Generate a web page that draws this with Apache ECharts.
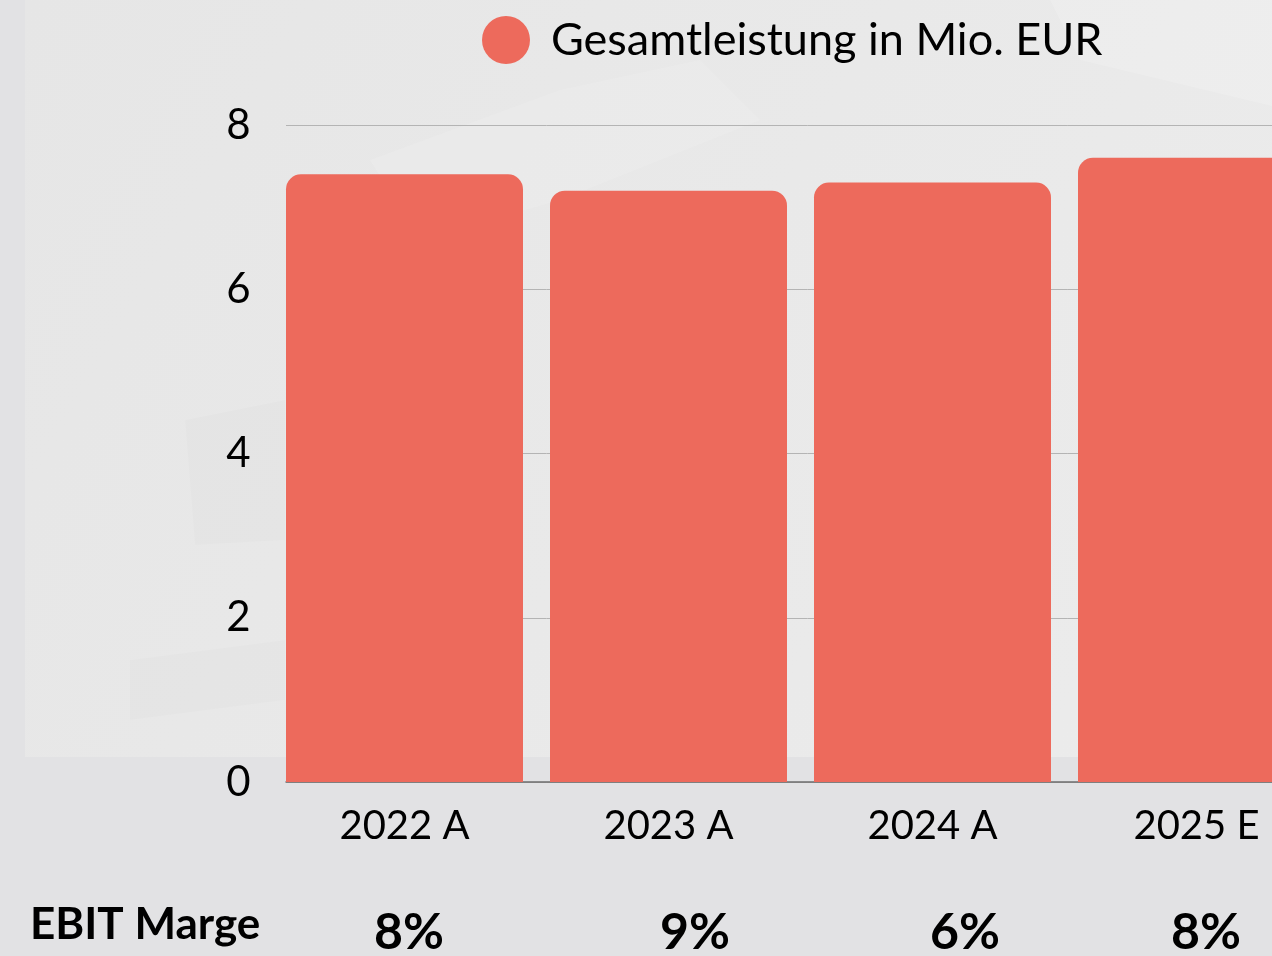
<!DOCTYPE html>
<html>
<head>
<meta charset="utf-8">
<script src="https://cdn.jsdelivr.net/npm/echarts@6/dist/echarts.min.js"></script>
<style>
html,body{margin:0;padding:0;background:#e2e2e4;width:1272px;height:956px;overflow:hidden;}
#chart{width:1330px;height:956px;}
</style>
</head>
<body>
<div id="chart"></div>
<script>
const categories = ['2022 A', '2023 A', '2024 A', '2025 E'];
const gesamtleistung = [7.4, 7.2, 7.3, 7.6];
const ebitMarge = ['8%', '9%', '6%', '8%'];
const seriesName = 'Gesamtleistung in Mio. EUR';
const rowLabel = 'EBIT Marge';
const yTicks = { min: 0, max: 8, interval: 2 };

// layout helpers (screen positions of the EBIT row texts)
const ebitX = [409, 695, 965, 1206];

const FONT = 'Lato, "Open Sans", sans-serif';
const chart = echarts.init(document.getElementById('chart'), null, { renderer: 'canvas' });

const graphics = [
  { type: 'rect', z: -10, silent: true, shape: { x: 0, y: 0, width: 1330, height: 956 }, style: { fill: '#e2e2e4' } },
  { type: 'rect', z: -9, silent: true, shape: { x: 25, y: 0, width: 1305, height: 757 },
    style: { fill: new echarts.graphic.LinearGradient(0, 0, 1, 1, [
      { offset: 0, color: '#e6e6e6' }, { offset: 0.5, color: '#e9e9e9' }, { offset: 1, color: '#ececec' }]) } },
  { type: 'polygon', z: -8, silent: true, shape: { points: [[370, 160], [560, 90], [700, 60], [760, 120], [560, 200], [420, 240]] }, style: { fill: 'rgba(255,255,255,0.12)' } },
  { type: 'polygon', z: -8, silent: true, shape: { points: [[185, 420], [285, 400], [285, 540], [195, 545]] }, style: { fill: 'rgba(0,0,0,0.012)' } },
  { type: 'polygon', z: -8, silent: true, shape: { points: [[130, 660], [285, 640], [285, 700], [130, 720]] }, style: { fill: 'rgba(0,0,0,0.01)' } },
  { type: 'polygon', z: -8, silent: true, shape: { points: [[1050, 0], [1330, 0], [1330, 120], [1080, 60]] }, style: { fill: 'rgba(255,255,255,0.15)' } },
  { type: 'text', left: 30, top: 903, style: { text: rowLabel, font: 'bold 44px ' + FONT, fill: '#000' } }
];
ebitMarge.forEach((t, i) => {
  graphics.push({ type: 'text', x: ebitX[i], y: 933, style: { text: t, font: 'bold 50px ' + FONT, fill: '#000', align: 'center', verticalAlign: 'middle' } });
});

chart.setOption({
  backgroundColor: 'transparent',
  animation: false,
  graphic: graphics,
  legend: {
    left: 482, top: 16, padding: 0,
    icon: 'circle', itemWidth: 48, itemHeight: 48,
    textStyle: { fontFamily: FONT, fontSize: 45, color: '#000', padding: [0, 0, 0, 16] },
    data: [seriesName]
  },
  grid: [
    { left: 272.5, width: 1056, top: 125, bottom: 174 },
    { left: 286, width: 1042.5, top: 125, bottom: 174 }
  ],
  xAxis: [
    { type: 'category', gridIndex: 0, data: categories,
      axisLine: { show: false }, axisTick: { show: false },
      axisLabel: { fontFamily: FONT, fontSize: 40, color: '#000', margin: 24 } },
    { type: 'value', gridIndex: 1, min: 0, max: 1,
      axisLine: { show: true, lineStyle: { color: '#6e6e6e', width: 1.5 } },
      axisTick: { show: false }, axisLabel: { show: false }, splitLine: { show: false } }
  ],
  yAxis: [
    { type: 'value', gridIndex: 0, min: yTicks.min, max: yTicks.max, interval: yTicks.interval,
      axisLine: { show: false }, axisTick: { show: false }, splitLine: { show: false },
      axisLabel: { fontFamily: FONT, fontSize: 42, color: '#000', margin: 22 } },
    { type: 'value', gridIndex: 1, min: yTicks.min, max: yTicks.max, interval: yTicks.interval,
      axisLine: { show: false }, axisTick: { show: false }, axisLabel: { show: false },
      splitLine: { show: true, lineStyle: { color: '#b4b4b4', width: 1 } } }
  ],
  series: [
    { name: seriesName, type: 'bar', xAxisIndex: 0, yAxisIndex: 0,
      data: gesamtleistung, barWidth: 237,
      itemStyle: { color: '#ED6A5C', borderRadius: [15, 15, 0, 0] } }
  ]
});
</script>
</body>
</html>
